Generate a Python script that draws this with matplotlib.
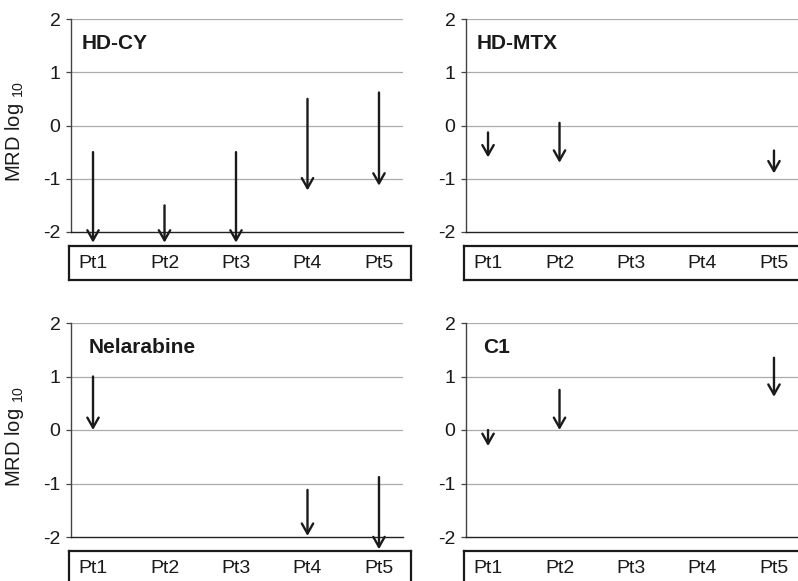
import numpy as np
import matplotlib
matplotlib.use("Agg")
import matplotlib.pyplot as plt
import matplotlib.transforms as mtransforms

plt.rcParams['font.family'] = ['Liberation Sans', 'DejaVu Sans']
plt.rcParams['mathtext.fontset'] = 'custom'
plt.rcParams['mathtext.rm'] = 'Liberation Sans'

# patients on the x axis
patients = ["Pt1", "Pt2", "Pt3", "Pt4", "Pt5"]

# MRD (log10) before and after each drug, nan = not given
hdcy_before = [-0.5, -1.5, -0.5, 0.5, 0.62]
hdcy_after = [-2.2, -2.2, -2.2, -1.22, -1.13]

hdmtx_before = [-0.13, 0.05, np.nan, np.nan, -0.47]
hdmtx_after = [-0.6, -0.7, np.nan, np.nan, -0.9]

nela_before = [1.0, np.nan, np.nan, -1.12, -0.88]
nela_after = [0.0, np.nan, np.nan, -1.98, -2.23]

c1_before = [0.0, 0.75, np.nan, np.nan, 1.35]
c1_after = [-0.3, 0.0, np.nan, np.nan, 0.62]

drugs = ["HD-CY", "HD-MTX", "Nelarabine", "C1"]
befores = [hdcy_before, hdmtx_before, nela_before, c1_before]
afters = [hdcy_after, hdmtx_after, nela_after, c1_after]

W, H = 798, 581
fig = plt.figure(figsize=(W / 100, H / 100), dpi=100)

def px(x0, y0, x1, y1):
    # pixel box -> figure fraction rect
    return [x0 / W, 1 - y1 / H, (x1 - x0) / W, (y1 - y0) / H]

# main plot areas and label boxes in pixels
main_boxes = [(71, 19, 403, 232), (466, 19, 798, 232),
              (71, 323, 403, 537), (466, 323, 798, 537)]
label_boxes = [(69, 246, 411, 280), (464, 246, 806, 280),
               (69, 551, 411, 586), (464, 551, 806, 586)]
title_x = [0.033, 0.033, 0.052, 0.052]

x = np.arange(len(patients))
grid_col = "#ababab"
axis_col = "#444444"
ink = "#1a1a1a"

for k in range(4):
    ax = fig.add_axes(px(*main_boxes[k]))
    ax.set_xlim(-0.308, 4.336)
    ax.set_ylim(-2, 2)
    ax.set_yticks([-2, -1, 0, 1, 2])
    ax.set_yticklabels(["-2", "-1", "0", "1", "2"])
    ax.set_xticks([])
    for yv in [-1, 0, 1, 2]:
        ax.axhline(yv, color=grid_col, lw=0.9, zorder=1)
    for s in ["top", "right"]:
        ax.spines[s].set_visible(False)
    ax.spines["left"].set_color(axis_col)
    ax.spines["left"].set_linewidth(1.0)
    ax.spines["bottom"].set_color("#222222")
    ax.spines["bottom"].set_linewidth(1.0)
    ax.tick_params(axis="y", length=3.5, width=0.9, color=axis_col,
                   labelsize=14, pad=4, labelcolor=ink)

    ax.text(title_x[k], 1.54, drugs[k],
            transform=mtransforms.blended_transform_factory(ax.transAxes, ax.transData),
            fontsize=15, fontweight="bold", va="center", ha="left", color=ink)

    for xi, b, a in zip(x, befores[k], afters[k]):
        if np.isnan(b):
            continue
        ax.annotate("", xy=(xi, a), xytext=(xi, b), annotation_clip=False,
                    arrowprops=dict(arrowstyle="->,head_length=0.6,head_width=0.34",
                                    lw=1.7, color=ink, shrinkA=0, shrinkB=0,
                                    mutation_scale=12), zorder=5)

    if k % 2 == 0:
        ax.set_ylabel(r"MRD log $_{10}$", fontsize=14.5, color=ink)
        ax.yaxis.set_label_coords(-0.136, 0.47)

    # label box below the plot
    bx = fig.add_axes(px(*label_boxes[k]))
    bx.set_xticks([])
    bx.set_yticks([])
    bx.patch.set_alpha(0)
    for s in bx.spines.values():
        s.set_linewidth(1.6)
        s.set_color(ink)
    trans = mtransforms.blended_transform_factory(ax.transData, bx.transAxes)
    for xi, name in zip(x, patients):
        bx.text(xi, 0.5, name, transform=trans, ha="center", va="center",
                fontsize=14, color=ink)

fig.savefig("out.png", dpi=100)
